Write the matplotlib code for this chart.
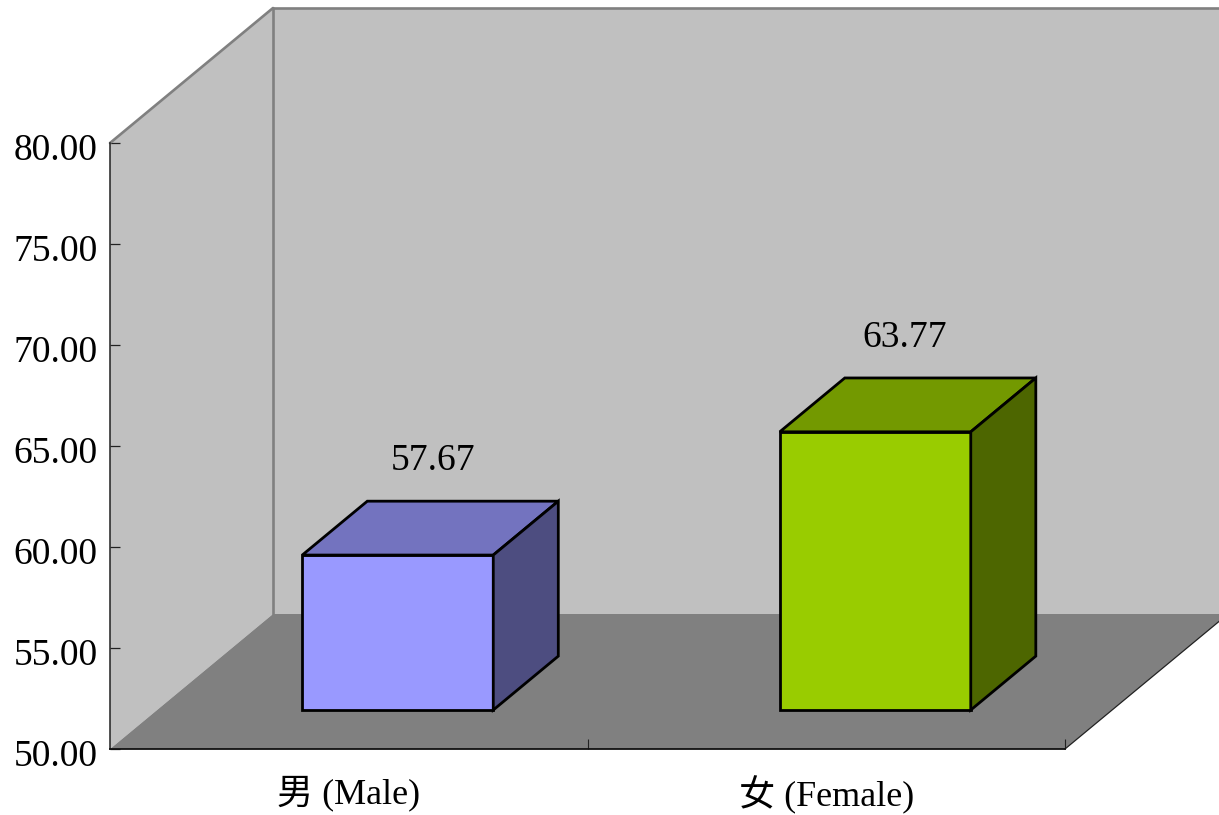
import matplotlib
matplotlib.use("Agg")
import matplotlib.pyplot as plt
from matplotlib.patches import Polygon
from matplotlib.transforms import ScaledTranslation

categories = ["男 (Male)", "女 (Female)"]
values = [57.67, 63.77]
value_labels = ["57.67", "63.77"]
y_ticks = [50, 55, 60, 65, 70, 75, 80]
y_tick_labels = ["50.00", "55.00", "60.00", "65.00", "70.00", "75.00", "80.00"]

W, H = 1219, 815
FONT = ["Liberation Serif", "Noto Sans CJK TC"]
FRONT_FACE = ["#9999FF", "#99CC00"]
TOP_FACE = ["#7373BF", "#739900"]
SIDE_FACE = ["#4D4D80", "#4D6600"]
WALL, FLOOR, EDGE = "#C0C0C0", "#808080", "#808080"

# pixel geometry of the plot box expressed as the axes' scales
X0, CAT_PX = 110.0, 477.5
Y0, VAL_PX = 749.0, 20.2
DEPTH_DX = 163.0 / CAT_PX   # category units per unit of depth
DEPTH_DY = 135.0 / VAL_PX   # value units per unit of depth
YMIN, YMAX = y_ticks[0], y_ticks[-1]
NCAT = len(categories)

fig = plt.figure(figsize=(W / 100, H / 100), dpi=100, facecolor="white")
ax = fig.add_axes([0, 0, 1, 1])
ax.set_xlim(-X0 / CAT_PX, (W - X0) / CAT_PX)
ax.set_ylim(YMIN - (H - Y0) / VAL_PX, YMIN + Y0 / VAL_PX)
ax.patch.set_visible(False)


def proj(c, v, d=0.0):
    """Oblique projection: category, value, depth (0 front .. 1 back)."""
    return (c + d * DEPTH_DX, v + d * DEPTH_DY)


def face(pts, color, z, **kw):
    ax.add_patch(Polygon(pts, closed=True, facecolor=color, zorder=z, **kw))


# walls and floor
face([proj(0, YMIN, 0), proj(0, YMAX, 0), proj(0, YMAX, 1), proj(0, YMIN, 1)], WALL, 1, edgecolor="none")
face([proj(0, YMIN, 1), proj(0, YMAX, 1), proj(NCAT, YMAX, 1), proj(NCAT, YMIN, 1)], WALL, 1, edgecolor="none")
face([proj(0, YMIN, 0), proj(NCAT, YMIN, 0), proj(NCAT, YMIN, 1), proj(0, YMIN, 1)], FLOOR, 1.5, edgecolor="none")

for a, b in [(proj(0, YMAX, 0), proj(0, YMAX, 1)),
             (proj(0, YMAX, 1), proj(NCAT, YMAX, 1)),
             (proj(0, YMAX, 1), proj(0, YMIN, 1))]:
    ax.plot([a[0], b[0]], [a[1], b[1]], color=EDGE, lw=1.9, zorder=1.7, solid_capstyle="round")
a, b = proj(NCAT, YMIN, 0), proj(NCAT, YMIN, 1)
ax.plot([a[0], b[0]], [a[1], b[1]], color="#222222", lw=0.9, zorder=1.8)

# bars
HALF_W = 0.2
SHIFT = 0.004
D_FRONT, D_BACK = 0.289, 0.688
LABEL_DX_PX = [3, -3]
edge_kw = dict(edgecolor="black", linewidth=2.0, joinstyle="miter")
for i, v in enumerate(values):
    c0, c1 = i + 0.5 + SHIFT - HALF_W, i + 0.5 + SHIFT + HALF_W
    face([proj(c0, YMIN, D_FRONT), proj(c1, YMIN, D_FRONT), proj(c1, v, D_FRONT), proj(c0, v, D_FRONT)],
         FRONT_FACE[i], 3, **edge_kw)
    face([proj(c0, v, D_FRONT), proj(c1, v, D_FRONT), proj(c1, v, D_BACK), proj(c0, v, D_BACK)],
         TOP_FACE[i], 3, **edge_kw)
    face([proj(c1, YMIN, D_FRONT), proj(c1, YMIN, D_BACK), proj(c1, v, D_BACK), proj(c1, v, D_FRONT)],
         SIDE_FACE[i], 3, **edge_kw)
    cx, cy = proj((c0 + c1) / 2, v, (D_FRONT + D_BACK) / 2)
    ax.annotate(value_labels[i], (cx, cy), xytext=(LABEL_DX_PX[i] * 0.72, 67 * 0.72), textcoords="offset points",
                ha="center", va="center", fontsize=27, family=FONT, color="black", zorder=4)

# axes
for s in ("top", "right"):
    ax.spines[s].set_visible(False)
ax.spines["left"].set_position(("data", 0))
ax.spines["left"].set_bounds(YMIN, YMAX)
ax.spines["bottom"].set_position(("data", YMIN))
ax.spines["bottom"].set_bounds(0, NCAT)
ax.spines["left"].set_linewidth(1.1)
ax.spines["bottom"].set_linewidth(1.3)
ax.spines["left"].set_color("#222222")
ax.spines["bottom"].set_color("#111111")

ax.set_yticks(y_ticks)
ax.set_yticklabels(y_tick_labels, family=FONT, fontsize=27)
ax.tick_params(axis="y", direction="in", length=7, width=0.9, color="#222222", pad=9)
shift_down = ScaledTranslation(0, -4 / 72 * 0.72, fig.dpi_scale_trans)
for lab in ax.get_yticklabels():
    lab.set_transform(lab.get_transform() + shift_down)
ax.set_xticks(range(1, NCAT + 1))
ax.set_xticklabels([])
ax.tick_params(axis="x", which="major", direction="in", length=7.5, width=0.8, color="#222222")
ax.set_xticks([i + 0.5 for i in range(NCAT)], minor=True)
ax.set_xticklabels(categories, minor=True, family=FONT, fontsize=26)
ax.tick_params(axis="x", which="minor", length=0, pad=19)

fig.savefig("out.png", dpi=100)
